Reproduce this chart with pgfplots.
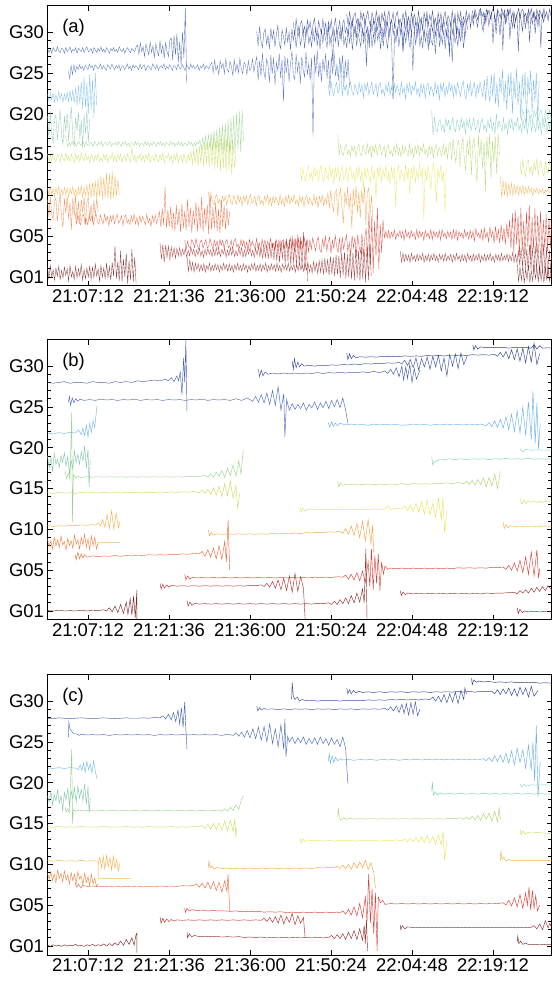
\documentclass[border=0pt]{standalone}
\usepackage{fontspec}
\setmainfont{Liberation Sans}
\usepackage{pgfplots}
\pgfplotsset{compat=1.18}
\definecolor{c01}{RGB}{112,16,16}
\definecolor{c02}{RGB}{140,24,24}
\definecolor{c03}{RGB}{170,26,26}
\definecolor{c05}{RGB}{216,40,30}
\definecolor{c07}{RGB}{234,90,40}
\definecolor{c08}{RGB}{241,118,46}
\definecolor{c09}{RGB}{243,150,46}
\definecolor{c10}{RGB}{245,168,58}
\definecolor{c13}{RGB}{228,226,70}
\definecolor{c14}{RGB}{196,220,80}
\definecolor{c16}{RGB}{144,206,130}
\definecolor{c17}{RGB}{168,208,96}
\definecolor{c18}{RGB}{120,192,160}
\definecolor{c19}{RGB}{112,196,184}
\definecolor{c20}{RGB}{128,204,200}
\definecolor{c22}{RGB}{104,180,236}
\definecolor{c23}{RGB}{90,166,234}
\definecolor{c26}{RGB}{58,92,184}
\definecolor{c28}{RGB}{46,80,170}
\definecolor{c29}{RGB}{42,68,160}
\definecolor{c30}{RGB}{34,56,154}
\definecolor{c31}{RGB}{26,44,136}
\definecolor{c32}{RGB}{16,32,110}
\pgfplotsset{
  gnss/.style={
    scale only axis, width=504bp, height=280bp, anchor=south west,
    xmin=0, xmax=89.6, ymin=-1.1, ymax=33.2,
    xtick={7.2,21.6,36,50.4,64.8,79.2},
    xticklabels={21:07:12,21:21:36,21:36:00,21:50:24,22:04:48,22:19:12},
    ytick={0,5,10,15,20,25,30},
    yticklabels={G01,G05,G10,G15,G20,G25,G30},
    minor y tick num=4,
    tick align=inside,
    major tick length=5bp, minor tick length=3.5bp,
    ticklabel style={font=\fontsize{18.5}{18.5}\selectfont},
    axis line style={line width=1pt},
    every tick/.style={black, line width=0.8pt},
  },
  txd/.style n args={3}{/pgfplots/table/row sep=\\, /pgfplots/table/header=false, /pgfplots/table/x expr={#1+\coordindex*#2}, /pgfplots/table/y expr={#3+\thisrowno{0}/10}},
  pa/.style={line width=0.35pt, opacity=0.8},
  pb/.style={line width=0.45pt, opacity=0.9},
}
\begin{document}
\begin{tikzpicture}
\path[use as bounding box] (0,0) rectangle (552bp,983bp);
%================ (a)
\begin{axis}[gnss, at={(47.5bp,697bp)}]
\addplot[c28,pa] table[txd={0}{0.25}{27.8}]{2\\-3\\1\\-4\\3\\0\\-2\\4\\-1\\-3\\2\\1\\-4\\3\\-2\\0\\4\\-3\\1\\-1\\3\\-4\\2\\0\\-2\\3\\-3\\1\\4\\-2\\-1\\2\\-4\\3\\0\\-3\\2\\-1\\4\\-2\\1\\-3\\3\\0\\-4\\2\\-1\\3\\-2\\1\\-3\\4\\0\\-2\\2\\-4\\1\\3\\-1\\-3\\2\\0\\-2\\4\\6\\-5\\9\\-2\\4\\-8\\7\\1\\-6\\10\\-3\\5\\-9\\8\\-1\\-7\\11\\-4\\6\\-10\\9\\-2\\-8\\12\\15\\-12\\18\\-6\\20\\-15\\10\\-18\\22\\-10\\52\\-40\\};
\addplot[c26,pa] table[txd={3.7}{0.25}{25.7}]{-5\\-14\\2\\-9\\3\\-6\\1\\-3\\3\\-2\\1\\-4\\2\\0\\-3\\4\\-1\\2\\-4\\3\\1\\-2\\0\\4\\-3\\2\\-1\\-4\\3\\1\\-2\\4\\0\\-3\\2\\-1\\3\\-4\\1\\2\\-3\\0\\4\\-2\\1\\-4\\3\\-1\\2\\0\\-3\\4\\-2\\1\\3\\-4\\0\\2\\-1\\-3\\4\\1\\-2\\3\\-4\\0\\2\\-1\\4\\-3\\1\\-2\\3\\0\\-4\\2\\1\\-3\\4\\-1\\-2\\3\\0\\-4\\2\\1\\-3\\4\\-1\\2\\-2\\0\\3\\-4\\1\\-1\\4\\-3\\2\\0\\-2\\3\\6\\-7\\9\\-4\\2\\-9\\8\\-1\\5\\-8\\10\\-3\\-6\\7\\1\\-10\\9\\-5\\4\\-7\\11\\-2\\-8\\6\\3\\-9\\8\\-4\\-1\\10\\-6\\5\\13\\-16\\8\\-11\\18\\-5\\-14\\10\\3\\-19\\15\\-8\\12\\-22\\6\\-4\\17\\-13\\9\\-42\\14\\-7\\11\\-18\\4\\20\\-10\\-15\\16\\-6\\8\\-20\\13\\-3\\-12\\19\\-9\\5\\-16\\11\\-85\\15\\-7\\21\\-12\\6\\-18\\10\\-4\\17\\-14\\9\\-25\\13\\-8\\18\\-11\\3\\-16\\12\\-6\\15\\-20\\8\\-13\\10\\-25\\};
\addplot[c29,pa] table[txd={37.2}{0.25}{29.3}]{8\\-10\\14\\-4\\-12\\6\\11\\-8\\3\\-14\\12\\-2\\9\\-11\\5\\15\\-7\\-13\\10\\1\\-9\\13\\-5\\7\\-15\\11\\-3\\8\\-12\\4\\14\\-9\\-1\\10\\-13\\6\\12\\-7\\2\\-11\\9\\-4\\13\\-10\\5\\-14\\11\\-6\\8\\-2\\-12\\15\\-8\\3\\-28\\10\\-5\\12\\-11\\7\\-3\\14\\-9\\1\\-13\\11\\-6\\9\\-15\\4\\12\\-10\\6\\-2\\-11\\13\\-7\\8\\-35\\10\\-4\\12\\-12\\5\\-8\\14\\-3\\9\\-14\\7\\-10\\11\\-1\\-13\\6\\15\\-9\\-75\\8\\-5\\13\\-11\\3\\10\\-14\\7\\-6\\12\\-2\\-12\\9\\-40\\11\\-8\\5\\14\\-10\\2\\-13\\10\\-5\\8\\-15\\12\\-3\\-9\\11\\-20\\6\\13\\-11\\4\\-7\\10\\-14\\9\\-2\\-12\\7\\-30\\12\\-6\\3\\-10\\9\\-4\\11\\-13\\5\\8\\};
\addplot[c30,pa] table[txd={43.7}{0.25}{30.5}]{7\\-9\\11\\-3\\-10\\5\\9\\-6\\2\\-11\\10\\-1\\8\\-8\\4\\12\\-5\\-10\\9\\0\\-7\\11\\-4\\6\\-12\\8\\-2\\10\\-9\\3\\12\\-7\\-1\\9\\-11\\5\\10\\-6\\1\\-9\\8\\-3\\11\\-8\\4\\-12\\9\\-5\\7\\-1\\-10\\12\\-6\\2\\-25\\9\\-4\\10\\-9\\6\\-2\\12\\-7\\1\\-11\\9\\-5\\8\\-13\\3\\10\\-8\\5\\-1\\-9\\11\\-6\\7\\-30\\9\\-3\\10\\-10\\4\\-6\\12\\-2\\8\\-12\\6\\-8\\9\\0\\-11\\5\\13\\-7\\-20\\7\\-4\\11\\-9\\2\\9\\-12\\6\\-5\\10\\-1\\-10\\8\\-35\\9\\-7\\4\\12\\-8\\1\\-11\\9\\-4\\7\\-13\\10\\-2\\};
\addplot[c31,pa] table[txd={53.2}{0.25}{31.6}]{6\\-8\\9\\-2\\-9\\4\\8\\-5\\1\\-10\\9\\-1\\7\\-7\\3\\10\\-4\\-9\\8\\0\\-6\\10\\-3\\5\\-11\\7\\-2\\9\\-8\\2\\10\\-6\\-1\\8\\-10\\4\\9\\-5\\0\\-8\\7\\-3\\10\\-7\\3\\-11\\8\\-4\\6\\-1\\-9\\10\\-5\\2\\-14\\8\\-3\\9\\-8\\5\\-2\\10\\-6\\1\\-10\\8\\-4\\7\\-12\\3\\9\\-7\\4\\-1\\-8\\10\\-5\\6\\-18\\8\\-3\\9\\-9\\3\\-5\\10\\-2\\7\\-11\\5\\-7\\8\\0\\-10\\4\\11\\-6\\-15\\6\\-3\\10\\-8\\2\\8\\-30\\5\\-4\\9\\-1\\-20\\7\\-38\\8\\-6\\3\\10\\-25\\1\\-10\\8\\-3\\6\\-40\\9\\-2\\-15\\7\\-12\\4\\8\\-28\\3\\-6\\9\\-18\\5\\-9\\7\\-35\\8\\-4\\6\\};
\addplot[c32,pa] table[txd={75.5}{0.25}{32.3}]{4\\-6\\5\\-2\\-8\\3\\6\\-4\\1\\-15\\5\\-1\\4\\-7\\2\\6\\-3\\-25\\5\\0\\-5\\6\\-3\\4\\-10\\5\\-2\\6\\-6\\2\\-18\\-5\\-1\\6\\-7\\3\\5\\-4\\0\\-12\\5\\-3\\6\\-5\\2\\-8\\5\\-4\\4\\-1\\-6\\6\\-4\\2\\-9\\5\\-3\\};
\addplot[c23,pa] table[txd={49.9}{0.25}{23.0}]{6\\-7\\9\\-3\\-8\\4\\8\\-5\\1\\30\\-9\\7\\-2\\5\\-8\\3\\9\\-4\\-7\\6\\0\\-6\\8\\-3\\5\\-10\\7\\-2\\8\\-7\\2\\9\\-6\\-1\\7\\-9\\4\\8\\-5\\0\\-8\\6\\-3\\9\\-7\\3\\-10\\7\\-4\\5\\-1\\-8\\9\\-5\\2\\-12\\7\\-3\\8\\-7\\4\\-2\\9\\-6\\1\\-9\\7\\-4\\6\\-11\\3\\8\\-7\\4\\-1\\-8\\9\\-5\\5\\-14\\7\\-3\\8\\-9\\3\\-5\\9\\-2\\6\\-10\\5\\-7\\8\\0\\-9\\4\\10\\-6\\-12\\6\\-3\\9\\-8\\2\\8\\-11\\5\\-4\\9\\-1\\-9\\12\\-14\\16\\-6\\-15\\18\\-9\\20\\-18\\8\\-22\\15\\-5\\24\\-16\\10\\-26\\19\\-8\\22\\-30\\14\\-12\\25\\-20\\9\\-35\\18\\-10\\21\\-42\\15\\-6\\23\\-28\\12\\-15\\20\\-38\\10\\};
\addplot[c19,pa] table[txd={68.3}{0.25}{18.6}]{18\\-12\\10\\-5\\-8\\4\\7\\-5\\1\\-9\\8\\-1\\6\\-7\\3\\9\\-4\\-8\\7\\0\\-6\\9\\-3\\5\\-10\\7\\-2\\8\\-7\\2\\9\\-6\\-1\\7\\-9\\4\\8\\-5\\0\\-8\\6\\-3\\9\\-7\\3\\-10\\14\\-4\\5\\-1\\-8\\9\\-5\\2\\-11\\7\\-3\\8\\-7\\4\\-2\\9\\-6\\1\\-9\\7\\-4\\6\\-10\\3\\8\\-7\\4\\-1\\-8\\9\\-5\\5\\-12\\7\\-3\\8\\-9\\3\\-5\\9\\};
\addplot[c20,pa] table[txd={84}{0.25}{19.8}]{5\\-6\\7\\-2\\-7\\3\\6\\-4\\1\\-8\\6\\-1\\5\\-6\\2\\7\\-3\\-7\\6\\0\\-5\\7\\-2\\};
\addplot[c17,pa] table[txd={51.6}{0.25}{15.5}]{20\\-6\\7\\-3\\-6\\4\\8\\-5\\1\\-7\\6\\-1\\5\\-7\\3\\8\\-4\\-6\\7\\0\\-5\\8\\-3\\5\\-8\\6\\-2\\7\\-6\\2\\8\\-5\\-1\\6\\-8\\4\\7\\-4\\0\\-7\\6\\-3\\8\\-6\\3\\-8\\6\\-4\\5\\-1\\-7\\8\\-5\\2\\-9\\6\\-3\\7\\-6\\4\\-2\\8\\-5\\1\\-8\\6\\-4\\5\\-9\\3\\7\\-6\\4\\-1\\-7\\8\\-5\\5\\-10\\6\\10\\-12\\14\\-4\\-15\\9\\12\\-20\\6\\16\\-10\\-25\\13\\-6\\18\\-30\\8\\15\\-12\\-40\\19\\-8\\14\\-22\\11\\-50\\17\\-10\\20\\-35\\12\\-15\\18\\-28\\21\\-5\\};
\addplot[c13,pa] table[txd={44.9}{0.25}{12.6}]{9\\-7\\8\\-4\\-9\\5\\10\\-6\\2\\-8\\9\\-2\\7\\-8\\4\\11\\-5\\-9\\8\\1\\-7\\10\\-4\\6\\-12\\8\\-3\\9\\-8\\3\\10\\-7\\-2\\8\\-10\\5\\9\\-6\\1\\-9\\8\\-4\\10\\-8\\4\\-18\\9\\-5\\7\\-2\\-10\\11\\-6\\3\\-30\\8\\-4\\10\\-9\\6\\-3\\11\\-7\\2\\-12\\9\\-5\\8\\-40\\4\\10\\-8\\5\\-2\\-9\\12\\-6\\7\\-25\\9\\-4\\11\\-10\\4\\-6\\12\\-3\\8\\-55\\6\\-8\\10\\0\\-20\\5\\13\\-7\\-35\\7\\-4\\11\\-9\\3\\-45\\9\\};
\addplot[c14,pa] table[txd={84}{0.25}{13.3}]{9\\-8\\11\\-4\\-10\\6\\10\\-6\\2\\-9\\8\\-2\\12\\-8\\4\\9\\-5\\-10\\8\\1\\-7\\10\\-4\\};
\addplot[c09,pa] table[txd={28.6}{0.25}{9.4}]{10\\-5\\6\\-3\\-6\\4\\7\\-4\\1\\-6\\5\\-1\\5\\-6\\3\\7\\-3\\-5\\6\\0\\-5\\7\\-2\\4\\-7\\5\\-2\\6\\-5\\2\\7\\-4\\-1\\5\\-7\\3\\6\\-4\\0\\-6\\5\\-2\\7\\-5\\3\\-7\\5\\-3\\4\\-1\\-6\\7\\-4\\2\\-8\\5\\-3\\6\\-5\\3\\-2\\7\\-4\\1\\-7\\5\\-3\\4\\-8\\3\\6\\-5\\3\\-1\\-6\\7\\-4\\4\\-9\\5\\-3\\6\\-7\\3\\-4\\9\\-10\\12\\-4\\-14\\8\\13\\-20\\5\\15\\-9\\-28\\11\\-6\\16\\-12\\8\\-34\\14\\-7\\18\\-15\\10\\-22\\12\\-5\\17\\-30\\9\\15\\-18\\6\\-25\\};
\addplot[c10,pa] table[txd={80.5}{0.25}{10.5}]{18\\-8\\14\\-5\\12\\-7\\9\\-4\\10\\-6\\8\\-3\\7\\-5\\6\\-2\\7\\-4\\5\\-3\\6\\-2\\4\\-5\\3\\-1\\4\\-3\\2\\-2\\3\\-4\\2\\-1\\3\\-2\\1\\};
\addplot[c05,pa] table[txd={24.4}{0.25}{4.0}]{5\\-6\\4\\-3\\-5\\6\\2\\-4\\7\\-2\\-6\\3\\5\\-5\\1\\6\\-4\\-3\\7\\0\\-6\\5\\-2\\4\\-7\\6\\-1\\5\\-5\\3\\6\\-4\\-2\\5\\-6\\4\\7\\-3\\0\\-5\\6\\-2\\5\\-6\\3\\-7\\6\\-3\\4\\-1\\-6\\7\\-4\\2\\-8\\6\\-3\\5\\-5\\4\\-2\\7\\-4\\1\\-7\\6\\-3\\5\\-8\\3\\6\\-5\\4\\-1\\-6\\8\\-4\\5\\-9\\6\\-3\\7\\-7\\4\\-5\\8\\-2\\6\\-9\\5\\-6\\8\\0\\-8\\4\\9\\-6\\-10\\6\\-4\\10\\-8\\3\\9\\-11\\5\\-5\\11\\-2\\-10\\8\\-12\\9\\-6\\4\\12\\-9\\2\\-13\\11\\-4\\8\\-14\\12\\-3\\-10\\13\\-15\\7\\20\\-18\\40\\-25\\35\\-35\\28\\-15\\45\\-30\\25\\-10\\30\\8\\16\\8\\17\\7\\15\\9\\18\\6\\14\\10\\17\\8\\16\\5\\18\\9\\15\\7\\17\\10\\14\\6\\18\\8\\16\\9\\15\\5\\17\\10\\14\\7\\18\\6\\16\\9\\15\\8\\17\\5\\18\\10\\14\\7\\16\\9\\15\\6\\18\\8\\17\\5\\16\\10\\14\\7\\18\\9\\15\\6\\17\\8\\16\\4\\19\\10\\14\\7\\18\\5\\20\\8\\15\\3\\21\\9\\16\\2\\22\\6\\18\\1\\24\\5\\20\\0\\25\\7\\30\\-5\\38\\-10\\42\\0\\35\\-15\\45\\-8\\28\\-12\\40\\-3\\48\\-18\\33\\-6\\44\\-10\\36\\-2\\41\\-14\\30\\-5\\37\\-9\\32\\-4\\28\\};
\addplot[c03,pa] table[txd={20}{0.25}{3.0}]{12\\-8\\10\\-12\\9\\-6\\8\\-9\\7\\-5\\6\\-7\\5\\-4\\6\\-5\\4\\-3\\5\\-6\\3\\-4\\6\\-2\\4\\-5\\3\\-3\\5\\-4\\2\\-6\\4\\-3\\5\\-2\\3\\-5\\4\\-4\\6\\-3\\2\\-5\\4\\-2\\5\\-6\\3\\-4\\6\\-3\\4\\-5\\2\\-4\\5\\-3\\6\\-6\\3\\-5\\4\\-2\\6\\-4\\3\\-6\\5\\-3\\7\\-5\\4\\-7\\8\\-6\\9\\-8\\10\\-7\\12\\-9\\14\\-10\\11\\-12\\15\\-8\\13\\-14\\17\\-11\\16\\-15\\20\\-13\\18\\-18\\22\\-16\\19\\-20\\25\\-22\\15\\-35\\};
\addplot[c02,pa] table[txd={24.8}{0.25}{1.1}]{14\\-4\\10\\-3\\7\\-5\\6\\-2\\5\\-4\\4\\-3\\5\\-5\\3\\-2\\6\\-4\\3\\-3\\5\\-2\\4\\-5\\3\\-3\\6\\-2\\4\\-4\\5\\-3\\3\\-5\\4\\-2\\6\\-3\\3\\-4\\5\\-2\\4\\-5\\3\\-3\\5\\-2\\6\\-4\\3\\-3\\5\\-4\\4\\-2\\6\\-5\\3\\-3\\5\\-2\\4\\-4\\6\\-3\\3\\-5\\5\\-2\\4\\-3\\6\\-4\\3\\-2\\5\\-5\\4\\-3\\6\\-2\\3\\-4\\5\\-3\\7\\-5\\4\\-6\\8\\-4\\6\\-7\\9\\-5\\10\\-8\\12\\-6\\11\\-9\\14\\-7\\13\\-10\\16\\-8\\15\\-12\\18\\-9\\20\\-13\\17\\-11\\22\\-14\\19\\-15\\24\\-12\\21\\-16\\26\\-14\\23\\-18\\28\\-15\\30\\-10\\};
\addplot[c02,pa] table[txd={62.7}{0.25}{2.3}]{9\\-5\\6\\-4\\5\\-3\\4\\-5\\6\\-2\\3\\-4\\5\\-3\\4\\-2\\6\\-5\\3\\-3\\5\\-4\\4\\-2\\6\\-3\\3\\-5\\5\\-2\\4\\-4\\6\\-3\\3\\-2\\5\\-5\\4\\-3\\6\\-2\\3\\-4\\5\\-3\\4\\-5\\6\\-2\\3\\-4\\5\\-3\\4\\-2\\6\\-5\\3\\-3\\5\\-4\\4\\-2\\6\\-3\\3\\-5\\5\\-2\\4\\-4\\6\\-3\\3\\-2\\5\\-4\\4\\-3\\7\\-5\\5\\-6\\9\\-8\\12\\-10\\14\\-12\\11\\-15\\16\\-13\\13\\-18\\15\\-14\\18\\-20\\12\\-16\\17\\-22\\14\\-25\\10\\-18\\15\\-12\\};
\addplot[c01,pa] table[txd={0}{0.25}{0.4}]{8\\-6\\10\\-4\\5\\-8\\7\\-3\\9\\-7\\4\\-5\\8\\-2\\6\\-9\\10\\-4\\3\\-7\\9\\-5\\6\\-3\\11\\-8\\5\\-6\\7\\-4\\9\\-7\\8\\-5\\12\\-3\\6\\-9\\10\\-4\\7\\-6\\13\\-5\\9\\-8\\14\\-3\\34\\-6\\15\\-9\\28\\-10\\18\\-4\\25\\-12\\16\\-8\\30\\-10\\20\\-12\\};
\addplot[c01,pa] table[txd={83.5}{0.25}{0.2}]{14\\-8\\10\\-6\\12\\-10\\8\\-5\\13\\-9\\6\\-7\\11\\-4\\9\\-8\\12\\-6\\7\\-9\\10\\-5\\8\\-7\\6\\};
\addplot[c22,pa] table[txd={0}{0.25}{22.0}]{4\\-5\\6\\-3\\5\\-6\\3\\-4\\7\\-2\\5\\-6\\4\\-3\\6\\-5\\8\\-4\\9\\-7\\12\\-10\\15\\-8\\20\\-14\\25\\-12\\18\\-20\\28\\-15\\22\\-25\\30\\-10\\};
\addplot[c18,pa] table[txd={0}{0.25}{18.3}]{15\\-12\\20\\-8\\-18\\10\\16\\-15\\5\\22\\-10\\-20\\14\\-5\\18\\-16\\8\\25\\-12\\-22\\12\\-4\\19\\-14\\9\\-25\\16\\-7\\21\\-18\\10\\};
\addplot[c16,pa] table[txd={3.1}{0.25}{16.3}]{12\\4\\-3\\2\\-2\\3\\-1\\2\\-3\\1\\3\\-2\\0\\2\\-3\\3\\-1\\-2\\2\\1\\-3\\3\\0\\-2\\2\\-1\\3\\-3\\1\\2\\-2\\0\\3\\-3\\1\\-1\\2\\-2\\3\\0\\-3\\2\\-1\\3\\-2\\1\\-3\\2\\0\\-2\\3\\-1\\2\\-3\\1\\0\\-2\\3\\-1\\2\\-3\\1\\-2\\3\\0\\-3\\2\\-1\\3\\-2\\1\\-3\\2\\0\\-2\\3\\-1\\2\\-3\\1\\-1\\3\\-2\\2\\-3\\1\\0\\-2\\3\\-1\\2\\-3\\1\\-2\\3\\0\\5\\-6\\8\\-4\\10\\-7\\12\\-5\\14\\-9\\16\\-6\\18\\-10\\20\\-8\\24\\-12\\26\\-9\\30\\-11\\32\\-8\\35\\-12\\38\\-6\\40\\-10\\42\\2\\};
\addplot[c14,pa] table[txd={0}{0.25}{14.6}]{5\\-6\\3\\-4\\6\\-2\\-5\\4\\2\\-6\\5\\-1\\-4\\6\\-3\\2\\-5\\4\\0\\-6\\5\\-2\\3\\-5\\6\\-1\\-4\\5\\-3\\2\\-6\\4\\1\\-5\\3\\-2\\6\\-4\\0\\-5\\5\\-3\\4\\-6\\2\\-1\\6\\-4\\3\\-5\\4\\-2\\5\\-6\\1\\3\\-4\\5\\-2\\-5\\14\\-3\\4\\-6\\2\\-1\\5\\-4\\3\\-5\\4\\-2\\6\\-6\\1\\3\\-4\\5\\-2\\-5\\4\\-3\\6\\-6\\2\\0\\5\\-4\\3\\-7\\4\\-2\\6\\-6\\1\\3\\-5\\5\\-2\\-6\\4\\-3\\8\\-8\\10\\-6\\12\\-9\\14\\-7\\16\\-10\\18\\-8\\20\\-12\\22\\-10\\25\\-14\\23\\-12\\26\\-16\\28\\-13\\24\\-18\\27\\-15\\22\\-20\\18\\-12\\4\\};
\addplot[c10,pa] table[txd={0}{0.25}{10.4}]{5\\-4\\6\\-3\\4\\-6\\5\\-2\\7\\-5\\3\\-4\\6\\-3\\5\\-6\\4\\-2\\7\\-4\\3\\-5\\6\\-3\\8\\-6\\5\\-4\\9\\-5\\10\\-7\\12\\-6\\14\\-8\\16\\-5\\20\\-9\\18\\-6\\24\\-8\\22\\-10\\26\\-7\\20\\-5\\15\\-3\\};
\addplot[c08,pa] table[txd={0}{0.25}{8.3}]{12\\-9\\15\\-6\\-12\\10\\14\\-15\\5\\18\\-10\\-22\\13\\-5\\16\\-12\\8\\-25\\14\\-8\\17\\-14\\10\\-18\\12\\-4\\15\\-20\\9\\14\\-12\\6\\-16\\11\\-8\\13\\-3\\};
\addplot[c07,pa] table[txd={4.9}{0.25}{7.0}]{8\\-5\\6\\-3\\-6\\4\\7\\-4\\1\\-6\\5\\-1\\5\\-6\\3\\7\\-3\\-5\\6\\0\\-5\\7\\-2\\4\\-7\\5\\-2\\6\\-5\\2\\7\\-4\\-1\\5\\-7\\3\\6\\-4\\0\\-6\\5\\-2\\7\\-5\\3\\-7\\5\\-3\\4\\-1\\-6\\7\\-4\\2\\-8\\5\\-3\\6\\-5\\3\\10\\-9\\14\\-6\\40\\-10\\12\\-8\\16\\-12\\9\\-14\\18\\-7\\13\\-15\\20\\-10\\11\\-13\\25\\-9\\15\\-16\\12\\-6\\22\\-14\\17\\-11\\28\\-15\\14\\-8\\19\\-17\\35\\-12\\16\\-10\\21\\-14\\13\\-16\\24\\-9\\18\\-12\\15\\-6\\10\\};
\node[anchor=west,inner sep=0pt,font=\fontsize{18.5}{18.5}\selectfont] at (axis cs:2.6,30.5) {(a)};
\end{axis}
%================ (b)
\begin{axis}[gnss, at={(47.5bp,363bp)}]
\addplot[c28,pb] coordinates {(0,28.0)(1,27.9)(2,28.0)(3,28.1)(4,27.9)(5,28.0)(6,28.0)(7,27.9)(8,28.1)(9,28.0)(10,28.0)(11,27.9)(12,28.1)(13,28.0)(14,28.1)(15,28.0)(16,28.2)(17,28.1)(18,28.2)(19,28.3)(20,28.2)(21,28.4)(21.5,28.2)(22,28.6)(22.5,28.1)(23,28.8)(23.3,28.2)(23.6,29.3)(23.9,26.5)(24.2,31.0)(24.4,28.0)(24.6,33.2)(24.8,24.4)};
\addplot[c26,pb] coordinates {(3.7,25.6)(3.9,26.3)(4.1,25.2)(4.4,26.1)(4.7,25.5)(5.0,26.0)(5.4,25.7)(5.8,25.95)(6.5,25.8)(7.5,25.9)(8.5,25.8)(9.5,25.95)(10.5,25.85)(11.5,25.9)(12.5,25.8)(13.5,25.9)(14.5,25.85)(15.5,25.95)(16.5,25.8)(17.5,25.9)(18.5,25.85)(19.5,25.9)(20.5,25.8)(21.5,25.9)(22.5,25.85)(23.5,25.9)(24.5,25.8)(25.5,25.9)(26.5,25.85)(27.5,25.95)(28.5,25.8)(29.5,25.9)(30.5,25.85)(31.5,25.9)(32.5,25.8)(33.5,26.0)(34.5,25.8)(35.5,26.1)(36.5,25.7)(37,26.3)(37.5,25.6)(38,26.5)(38.5,25.5)(39,26.7)(39.5,25.3)(40,27.0)(40.5,25.2)(41,27.5)(41.5,24.6)(42,26.6)(42.2,21.3)(42.5,25.9)(43,24.6)(43.5,25.4)(44,24.7)(44.5,25.3)(45,24.8)(45.5,25.5)(46,24.6)(46.5,25.3)(47,24.9)(47.5,25.6)(48,24.7)(48.5,25.5)(49,24.9)(49.5,25.7)(50,24.8)(50.5,25.8)(51,25.0)(51.5,25.9)(52,24.9)(52.5,26.1)(53,24.6)(53.4,23.0)};
\addplot[c29,pb] coordinates {(37.5,29.6)(37.7,28.7)(38,29.5)(38.3,28.8)(38.7,29.3)(39.2,29.0)(40,29.15)(41,29.05)(42,29.15)(43,29.05)(44,29.15)(45,29.05)(46,29.15)(47,29.1)(48,29.2)(49,29.1)(50,29.2)(51,29.15)(52,29.25)(53,29.15)(54,29.25)(55,29.2)(56,29.3)(57,29.2)(58,29.35)(59,29.2)(60,29.4)(60.5,29.1)(61,29.6)(61.5,29.0)(62,29.8)(62.5,28.7)(63,30.0)(63.3,28.3)(63.7,29.9)(64,28.5)(64.4,30.2)(64.8,28.0)(65.2,29.7)(65.6,28.4)(66.2,29.5)};
\addplot[c30,pb] coordinates {(43.5,30.6)(43.7,29.6)(43.9,30.9)(44.2,29.8)(44.5,30.5)(44.8,29.9)(45.2,30.3)(45.6,30.0)(46.5,30.1)(47.5,30.0)(48.5,30.1)(49.5,30.05)(50.5,30.15)(51.5,30.1)(52.5,30.2)(53.5,30.15)(54.5,30.25)(55.5,30.2)(56.5,30.3)(57.5,30.25)(58.5,30.35)(59.5,30.3)(60.5,30.4)(61.5,30.35)(62.5,30.45)(63,30.3)(63.5,30.7)(64,30.1)(64.5,30.8)(65,29.8)(65.5,31.0)(66,29.5)(66.5,30.9)(67,29.9)(67.5,31.1)(68,29.6)(68.5,31.2)(69,29.9)(69.5,31.3)(70,29.4)(70.5,31.0)(71,28.8)(71.5,31.4)(72,30.0)(72.5,31.5)(73,29.7)(73.5,31.6)(74,30.2)(74.6,31.2)};
\addplot[c31,pb] coordinates {(53.2,31.6)(53.4,30.8)(53.7,31.5)(54,30.9)(54.4,31.3)(54.8,31.0)(55.5,31.15)(56.5,31.1)(57.5,31.15)(58.5,31.1)(59.5,31.2)(60.5,31.15)(61.5,31.2)(62.5,31.15)(63.5,31.25)(64.5,31.2)(65.5,31.25)(66.5,31.2)(67.5,31.3)(68.5,31.25)(69.5,31.3)(70.5,31.25)(71.5,31.3)(72.5,31.3)(73.5,31.35)(74.5,31.3)(75.5,31.4)(76.5,31.35)(77.5,31.4)(78.5,31.35)(79.5,31.45)(80,31.2)(80.5,31.7)(81,31.1)(81.5,31.8)(82,30.9)(82.5,32.0)(83,30.8)(83.5,32.1)(84,30.6)(84.5,32.2)(85,30.4)(85.5,32.4)(86,30.5)(86.5,32.8)(87,30.2)(87.5,31.5)};
\addplot[c32,pb] coordinates {(75.6,32.6)(75.8,32.0)(76.1,32.5)(76.5,32.1)(77,32.35)(78,32.25)(79,32.3)(80,32.25)(81,32.3)(82,32.2)(83,32.3)(84,32.25)(85,32.3)(86,32.2)(86.5,32.6)(87,32.1)(87.5,32.5)(88,32.2)(89,32.25)(89.6,32.2)};
\addplot[c23,pb] coordinates {(49.9,23.1)(50.2,22.5)(50.5,23.2)(50.8,22.6)(51.2,23.0)(51.6,22.7)(52,23.0)(53,22.8)(54,22.9)(55,22.8)(56,22.85)(57,22.75)(58,22.9)(59,22.8)(60,22.85)(61,22.8)(62,22.85)(63,22.75)(64,22.8)(65,22.9)(66,22.8)(67,22.85)(68,22.75)(69,22.85)(70,22.8)(71,22.9)(72,22.8)(73,22.85)(74,22.8)(75,22.9)(76,22.8)(77,22.9)(78,22.7)(78.5,23.1)(79,22.6)(79.5,23.3)(80,22.5)(80.5,23.5)(81,22.4)(81.5,23.8)(82,22.2)(82.5,24.1)(83,22.0)(83.5,24.5)(84,21.8)(84.5,25.0)(85,21.5)(85.5,25.6)(86,21.0)(86.3,26.9)(86.7,20.5)(87,25.5)(87.3,19.8)(87.6,23.0)};
\addplot[c19,pb] coordinates {(68.3,18.9)(68.5,17.9)(68.8,18.3)(69.2,18.4)(69.6,18.5)(70.5,18.55)(71.5,18.65)(72.5,18.55)(73.5,18.65)(74.5,18.55)(75.5,18.65)(76.5,18.6)(77.5,18.65)(78.5,18.55)(79.5,18.65)(80.5,18.6)(81.5,18.7)(82.5,18.6)(83.5,18.65)(84.5,18.6)(85.5,18.7)(86.5,18.6)(87.5,18.65)(88.5,18.6)(89.6,18.65)};
\addplot[c20,pb] coordinates {(84,19.9)(84.5,19.5)(85,19.8)(86,19.7)(87,19.75)(88,19.7)(89.6,19.7)};
\addplot[c17,pb] coordinates {(51.6,15.9)(51.8,15.2)(52.1,15.7)(52.5,15.4)(53,15.55)(54,15.5)(55,15.55)(56,15.5)(57,15.55)(58,15.5)(59,15.55)(60,15.5)(61,15.55)(62,15.5)(63,15.6)(64,15.5)(65,15.6)(66,15.55)(67,15.6)(68,15.55)(69,15.65)(70,15.6)(71,15.7)(72,15.6)(73,15.75)(74,15.6)(74.5,15.9)(75,15.5)(75.5,16.0)(76,15.4)(76.5,16.1)(77,15.5)(77.5,16.3)(78,15.2)(78.5,16.4)(79,15.3)(79.5,16.8)(80,15.0)(80.5,17.1)};
\addplot[c13,pb] coordinates {(44.9,12.7)(45.1,12.1)(45.4,12.6)(45.8,12.2)(46.3,12.45)(47,12.4)(48,12.45)(49,12.4)(50,12.45)(51,12.4)(52,12.45)(53,12.4)(54,12.45)(55,12.4)(56,12.45)(57,12.4)(58,12.5)(59,12.45)(60,12.5)(60.5,12.9)(61,12.4)(62,12.6)(63,12.5)(63.5,12.9)(64,12.3)(64.5,13.0)(65,12.2)(65.5,13.2)(66,12.1)(66.5,13.4)(67,11.9)(67.5,13.6)(68,11.8)(68.5,13.2)(69,11.5)(69.5,13.8)(70,11.2)(70.3,13.9)(70.6,9.5)(71,12.4)};
\addplot[c14,pb] coordinates {(84,13.8)(84.3,13.1)(84.7,13.6)(85.1,13.2)(85.5,13.5)(86,13.3)(86.5,13.5)(87,13.3)(87.5,13.45)(88,13.3)(88.5,13.5)(89,13.35)(89.6,13.4)};
\addplot[c09,pb] coordinates {(28.6,9.9)(28.8,9.2)(29.1,9.6)(29.5,9.3)(30,9.45)(31,9.4)(32,9.45)(33,9.4)(34,9.45)(35,9.4)(36,9.45)(37,9.4)(38,9.45)(39,9.4)(40,9.5)(41,9.45)(42,9.5)(43,9.45)(44,9.55)(45,9.5)(46,9.6)(47,9.55)(48,9.65)(49,9.6)(50,9.7)(51,9.65)(52,9.8)(52.5,9.5)(53,10.1)(53.5,9.4)(54,10.4)(54.5,9.3)(55,10.7)(55.5,9.0)(56,11.0)(56.5,8.6)(57,11.2)(57.5,8.3)(57.8,10.5)(58,7.1)};
\addplot[c10,pb] coordinates {(81,10.9)(81.2,10.1)(81.5,10.6)(81.9,10.2)(82.3,10.45)(83,10.35)(84,10.4)(85,10.35)(86,10.4)(87,10.35)(88,10.4)(89.6,10.4)};
\addplot[c05,pb] coordinates {(24.4,4.5)(24.6,3.8)(24.9,4.3)(25.3,3.9)(25.8,4.15)(26.5,4.05)(27.5,4.1)(28.5,4.05)(29.5,4.1)(30.5,4.05)(31.5,4.1)(32.5,4.05)(33.5,4.1)(34.5,4.05)(35.5,4.1)(36.5,4.05)(37.5,4.1)(38.5,4.05)(39.5,4.1)(40.5,4.05)(41.5,4.1)(42.5,4.05)(43.5,4.1)(44.5,4.05)(45.5,4.1)(46.5,4.05)(47.5,4.15)(48.5,4.1)(49.5,4.15)(50.5,4.1)(51.5,4.2)(52.5,4.15)(53,4.4)(53.5,3.9)(54,4.5)(54.5,3.8)(55,4.7)(55.5,3.7)(56,4.9)(56.5,3.5)(57,6.0)(57.3,3.0)(57.6,7.6)(57.9,2.6)(58.2,6.8)(58.5,3.4)(58.8,7.0)(59.1,2.5)(59.4,6.0)(59.7,4.5)(60,5.5)(60.5,5.1)(61,5.25)(62,5.2)(63,5.25)(64,5.2)(65,5.25)(66,5.2)(67,5.25)(68,5.2)(69,5.25)(70,5.2)(71,5.25)(72,5.2)(73,5.3)(74,5.25)(75,5.3)(76,5.25)(77,5.3)(78,5.25)(79,5.35)(80,5.3)(81,5.4)(81.5,5.1)(82,5.6)(82.5,5.0)(83,5.9)(83.5,4.9)(84,6.2)(84.5,4.7)(85,6.6)(85.5,4.5)(86,7.2)(86.5,4.3)(87,7.5)(87.3,4.0)(87.5,5.2)};
\addplot[c03,pb] coordinates {(20,3.4)(20.2,2.7)(20.5,3.3)(20.8,2.8)(21.2,3.2)(21.6,2.9)(22,3.15)(23,3.05)(24,3.1)(25,3.05)(26,3.1)(27,3.05)(28,3.1)(29,3.05)(30,3.1)(31,3.05)(32,3.1)(33,3.05)(34,3.1)(35,3.05)(36,3.15)(37,3.1)(38,3.2)(38.5,3.0)(39,3.4)(39.5,2.9)(40,3.6)(40.5,2.8)(41,3.8)(41.5,2.6)(42,4.0)(42.5,2.5)(43,4.3)(43.5,2.3)(44,4.6)(44.5,2.4)(45,4.2)(45.5,2.8)(45.8,-1.0)};
\addplot[c02,pb] coordinates {(62.7,2.5)(62.9,1.9)(63.2,2.3)(63.6,2.0)(64,2.2)(65,2.1)(66,2.15)(67,2.1)(68,2.15)(69,2.1)(70,2.15)(71,2.1)(72,2.15)(73,2.1)(74,2.15)(75,2.1)(76,2.15)(77,2.1)(78,2.2)(79,2.15)(80,2.2)(81,2.2)(82,2.25)(83,2.3)(83.5,2.1)(84,2.5)(84.5,2.2)(85,2.6)(85.5,2.2)(86,2.8)(86.5,2.3)(87,2.9)(87.5,2.4)(88,3.0)(88.5,2.5)(89,3.1)(89.6,2.6)};
\addplot[c02,pb] coordinates {(24.8,1.3)(25,0.6)(25.3,1.1)(25.7,0.7)(26.2,0.95)(27,0.85)(28,0.9)(29,0.85)(30,0.9)(31,0.85)(32,0.9)(33,0.85)(34,0.9)(35,0.85)(36,0.9)(37,0.85)(38,0.9)(39,0.85)(40,0.9)(41,0.85)(42,0.9)(43,0.85)(44,0.9)(45,0.85)(46,0.9)(47,0.85)(48,0.95)(49,0.9)(50,1.0)(50.5,0.8)(51,1.2)(51.5,0.8)(52,1.4)(52.5,0.9)(53,1.6)(53.5,0.9)(54,1.9)(54.5,1.0)(55,2.2)(55.5,1.1)(56,2.7)(56.3,1.0)(56.6,7.6)(56.8,-1.0)};
\addplot[c01,pb] coordinates {(0,0.05)(1,0.0)(2,0.1)(3,0.0)(4,0.05)(5,0.0)(6,0.1)(7,0.0)(8,0.1)(9,0.05)(10,0.15)(10.5,0.0)(11,0.4)(11.5,-0.1)(12,0.6)(12.5,-0.2)(13,0.8)(13.5,-0.3)(14,1.1)(14.3,-0.4)(14.7,1.5)(15,-0.5)(15.3,1.8)(15.6,-0.8)(15.9,2.6)(15.9,-1.0)};
\addplot[c01,pb] coordinates {(83.5,0.4)(83.7,-0.3)(84,0.2)(84.4,-0.2)(84.8,0.0)(85.5,-0.1)(86.5,-0.05)(87.5,-0.1)(88.5,-0.05)(89.6,-0.1)};
\addplot[c22,pb] coordinates {(0,21.8)(1,21.7)(2,21.85)(3,21.75)(4,21.9)(5,21.8)(5.5,22.2)(6,21.6)(6.3,22.4)(6.6,21.5)(6.9,22.8)(7.2,21.3)(7.5,23.0)(7.8,21.9)(8.1,23.3)(8.4,22.5)(8.8,25.2)};
\addplot[c18,pb] coordinates {(0,19.0)(0.3,17.5)(0.6,18.8)(0.9,17.2)(1.2,19.3)(1.5,18.0)(1.8,18.6)(2.1,17.6)(2.4,19.0)(2.7,18.2)(3.0,19.4)(3.3,17.8)(3.6,18.9)(3.9,16.8)(4.2,18.5)(4.5,17.4)(4.8,19.6)(5.1,18.2)(5.4,19.2)(5.7,18.0)(6.0,19.5)(6.3,18.4)(6.6,20.2)(6.9,17.5)(7.2,19.8)(7.4,15.2)(7.6,18.5)};
\addplot[c16,pb] coordinates {(3.1,17.2)(3.4,16.2)(3.7,16.9)(4.0,16.1)(4.3,24.3)(4.45,10.9)(4.6,16.7)(5,16.3)(5.5,16.5)(6,16.35)(7,16.45)(8,16.4)(9,16.45)(10,16.4)(11,16.45)(12,16.4)(13,16.45)(14,16.4)(15,16.45)(16,16.4)(17,16.45)(18,16.4)(19,16.45)(20,16.4)(21,16.45)(22,16.4)(23,16.45)(24,16.4)(25,16.5)(26,16.45)(27,16.5)(28,16.6)(28.5,16.4)(29,16.8)(29.5,16.4)(30,17.0)(30.5,16.5)(31,17.2)(31.5,16.4)(32,17.5)(32.5,16.6)(33,17.9)(33.5,16.5)(34,18.4)(34.4,16.8)(34.8,19.7)};
\addplot[c14,pb] coordinates {(0,14.5)(1,14.4)(2,14.55)(3,14.45)(4,14.5)(5,14.4)(6,14.55)(7,14.45)(8,14.5)(9,14.45)(10,14.55)(11,14.45)(12,14.5)(13,14.45)(14,14.55)(15,14.5)(16,14.55)(17,14.45)(18,14.55)(19,14.5)(20,14.6)(21,14.5)(22,14.6)(23,14.5)(24,14.6)(25,14.55)(26,14.65)(27,14.5)(27.5,14.8)(28,14.4)(28.5,14.9)(29,14.3)(29.5,15.1)(30,14.2)(30.5,15.3)(31,14.0)(31.5,15.6)(32,14.1)(32.5,15.9)(33,13.8)(33.5,15.4)(33.8,12.6)(34.2,14.5)};
\addplot[c10,pb] coordinates {(0,10.45)(1,10.35)(2,10.45)(3,10.4)(4,10.5)(5,10.45)(6,10.55)(7,10.5)(8,10.6)(8.5,10.5)(9,10.8)(9.4,10.4)(9.8,11.2)(10.2,10.3)(10.6,11.8)(11,10.1)(11.4,12.3)(11.8,10.0)(12.2,12.0)(12.6,10.2)(12.9,11.0)};
\addplot[c10,pb,opacity=0.5] coordinates {(9.0,8.4)(12.9,8.4)};
\addplot[c08,pb] coordinates {(0,8.8)(0.3,7.9)(0.6,8.6)(0.9,7.6)(1.2,9.0)(1.5,8.0)(1.8,8.7)(2.1,7.8)(2.4,9.2)(2.7,8.1)(3.0,8.5)(3.3,7.5)(3.6,8.9)(3.9,8.0)(4.2,8.6)(4.5,7.7)(4.8,9.3)(5.1,8.2)(5.4,8.7)(5.7,7.6)(6.0,9.0)(6.3,8.1)(6.6,9.4)(6.9,7.8)(7.2,8.8)(7.5,7.5)(7.8,9.2)(8.1,8.0)(8.4,9.0)(8.7,7.6)(9.0,8.4)};
\addplot[c07,pb] coordinates {(4.9,6.9)(5.1,6.3)(5.4,7.2)(5.7,6.4)(6.0,7.0)(6.3,6.5)(6.6,6.9)(7,6.6)(8,6.75)(9,6.65)(10,6.75)(11,6.7)(12,6.8)(13,6.7)(14,6.8)(15,6.75)(16,6.85)(17,6.8)(18,6.9)(19,6.85)(20,6.9)(21,6.85)(22,6.95)(23,6.9)(24,7.0)(25,6.95)(26,7.05)(27,7.0)(27.5,7.3)(28,6.7)(28.5,7.5)(29,6.6)(29.5,7.7)(30,6.4)(30.5,8.0)(31,6.3)(31.5,8.5)(31.8,6.0)(32.1,11.2)(32.4,5.0)};
\node[anchor=west,inner sep=0pt,font=\fontsize{18.5}{18.5}\selectfont] at (axis cs:2.6,30.5) {(b)};
\end{axis}
%================ (c)
\begin{axis}[gnss, at={(47.5bp,28bp)}]
\addplot[c28,pb] coordinates {(0,27.9)(1,27.85)(2,27.95)(3,27.9)(4,27.85)(5,27.9)(6,27.95)(7,27.9)(8,27.85)(9,27.9)(10,27.95)(11,27.9)(12,27.85)(13,27.9)(14,27.95)(15,27.9)(16,27.9)(17,27.95)(18,27.9)(19,28.0)(20,27.95)(20.5,28.2)(21,27.8)(21.5,28.4)(22,27.7)(22.4,28.6)(22.8,27.5)(23.2,28.9)(23.5,27.2)(23.8,29.2)(24.1,26.8)(24.4,29.9)(24.6,26.5)(24.8,24.1)};
\addplot[c26,pb] coordinates {(3.7,25.6)(3.8,27.4)(4.0,26.6)(4.3,26.3)(4.7,26.0)(5.2,26.0)(5.6,25.8)(6,25.95)(7,25.85)(8,25.9)(9,25.85)(10,25.9)(11,25.8)(12,25.9)(13,25.85)(14,25.9)(15,25.85)(16,25.9)(17,25.85)(18,25.9)(19,25.8)(20,25.9)(21,25.85)(22,25.9)(23,25.85)(24,25.9)(25,25.85)(26,25.9)(27,25.85)(28,25.9)(29,25.85)(30,25.9)(31,25.8)(32,25.95)(33,25.8)(33.5,26.1)(34,25.7)(34.5,26.2)(35,25.6)(35.5,26.4)(36,25.5)(36.5,26.6)(37,25.4)(37.5,26.8)(38,25.2)(38.5,26.9)(39,25.0)(39.5,27.2)(40,24.8)(40.5,26.6)(41,24.4)(41.5,27.1)(42,24.1)(42.2,27.8)(42.4,23.2)(42.7,25.7)(43,25.0)(43.5,25.6)(44,24.8)(44.5,25.5)(45,24.9)(45.5,25.6)(46,24.7)(46.5,25.4)(47,24.8)(47.5,25.5)(48,24.7)(48.5,25.6)(49,24.8)(49.5,25.4)(50,24.6)(50.5,25.5)(51,24.7)(51.5,25.3)(52,24.4)(52.5,25.6)(53,24.2)(53.4,19.9)};
\addplot[c29,pb] coordinates {(37.2,29.4)(37.4,28.8)(37.7,29.2)(38,28.9)(38.5,29.1)(39,29.0)(40,29.05)(41,28.95)(42,29.05)(43,28.95)(44,29.05)(45,29.0)(46,29.05)(47,28.95)(48,29.05)(49,29.0)(50,29.05)(51,28.95)(52,29.05)(53,29.0)(54,29.05)(55,28.95)(56,29.05)(57,29.0)(58,29.05)(59,29.0)(60,29.1)(60.5,28.9)(61,29.3)(61.5,28.8)(62,29.4)(62.5,28.6)(63,29.6)(63.4,28.5)(63.8,29.7)(64.2,28.3)(64.6,29.8)(65,28.4)(65.4,29.9)(65.8,28.2)(66.2,29.0)};
\addplot[c30,pb] coordinates {(43.4,30.2)(43.5,32.3)(43.7,30.6)(44,30.2)(44.4,30.5)(44.8,30.0)(45.3,30.2)(46,30.05)(47,30.1)(48,30.0)(49,30.1)(50,30.05)(51,30.1)(52,30.0)(53,30.1)(54,30.05)(55,30.1)(56,30.05)(57,30.15)(58,30.1)(59,30.15)(60,30.1)(61,30.2)(62,30.15)(63,30.2)(64,30.15)(65,30.2)(66,30.15)(67,30.25)(68,30.2)(68.5,30.5)(69,30.0)(69.5,30.6)(70,29.9)(70.5,30.8)(71,29.8)(71.5,30.9)(72,29.9)(72.5,31.1)(73,29.7)(73.5,31.3)(74,30.2)(74.2,31.6)(74.5,30.9)};
\addplot[c31,pb] coordinates {(53.2,31.6)(53.4,30.9)(53.7,31.4)(54,30.9)(54.4,31.3)(54.8,31.0)(55.4,31.2)(56,31.05)(57,31.15)(58,31.05)(59,31.15)(60,31.05)(61,31.15)(62,31.1)(63,31.15)(64,31.05)(65,31.15)(66,31.1)(67,31.15)(68,31.05)(69,31.15)(70,31.1)(71,31.15)(72,31.1)(73,31.2)(74,31.1)(75,31.2)(76,31.1)(77,31.2)(78,31.15)(79,31.2)(79.5,30.9)(80,31.4)(80.5,30.8)(81,31.5)(81.5,30.9)(82,31.6)(82.5,30.7)(83,31.5)(83.5,30.6)(84,31.7)(84.5,30.8)(85,31.6)(85.5,30.5)(86,31.8)(86.5,30.6)(87.2,31.3)};
\addplot[c32,pb] coordinates {(75.4,32.8)(75.5,32.0)(75.8,32.6)(76.2,32.3)(76.7,32.45)(77.5,32.35)(78.5,32.4)(79.5,32.3)(80.5,32.35)(81.5,32.3)(82.5,32.35)(83.5,32.25)(84.5,32.3)(85.5,32.25)(86.5,32.3)(87.5,32.2)(88.5,32.25)(89.6,32.2)};
\addplot[c23,pb] coordinates {(49.9,22.6)(50.1,23.5)(50.3,22.4)(50.6,23.3)(50.9,22.5)(51.2,23.1)(51.6,22.7)(52,22.95)(52.5,22.8)(53.5,22.85)(54.5,22.75)(55.5,22.85)(56.5,22.8)(57.5,22.85)(58.5,22.75)(59.5,22.85)(60.5,22.8)(61.5,22.85)(62.5,22.75)(63.5,22.85)(64.5,22.8)(65.5,22.85)(66.5,22.8)(67.5,22.85)(68.5,22.8)(69.5,22.9)(70.5,22.8)(71.5,22.9)(72.5,22.8)(73.5,22.9)(74.5,22.8)(75.5,22.9)(76.5,22.8)(77.5,22.95)(78,22.7)(78.5,23.1)(79,22.6)(79.5,23.3)(80,22.6)(80.5,23.4)(81,22.5)(81.5,23.6)(82,22.4)(82.5,23.9)(83,22.2)(83.5,24.2)(84,22.5)(84.5,24.0)(85,21.8)(85.5,24.6)(86,21.5)(86.3,25.0)(86.6,20.2)(86.9,27.0)(87.2,18.3)(87.6,22.6)};
\addplot[c19,pb] coordinates {(68.3,19.0)(68.4,20.1)(68.6,18.5)(68.9,18.9)(69.3,18.5)(69.8,18.75)(70.5,18.6)(71.5,18.7)(72.5,18.6)(73.5,18.7)(74.5,18.6)(75.5,18.7)(76.5,18.6)(77.5,18.7)(78.5,18.6)(79.5,18.7)(80.5,18.6)(81.5,18.7)(82.5,18.6)(83.5,18.7)(84.5,18.6)(85.5,18.7)(86.5,18.6)(87.5,18.7)(88.5,18.6)(89.6,18.65)};
\addplot[c20,pb] coordinates {(84,19.9)(84.3,19.5)(84.7,19.8)(85.2,19.6)(86,19.75)(87,19.7)(88,19.75)(89.6,19.7)};
\addplot[c17,pb] coordinates {(51.6,15.8)(51.7,16.9)(51.9,15.7)(52.2,15.4)(52.6,15.7)(53.1,15.5)(53.7,15.65)(54.5,15.55)(55.5,15.6)(56.5,15.55)(57.5,15.6)(58.5,15.55)(59.5,15.6)(60.5,15.55)(61.5,15.6)(62.5,15.55)(63.5,15.6)(64.5,15.55)(65.5,15.6)(66.5,15.55)(67.5,15.6)(68.5,15.55)(69.5,15.6)(70.5,15.55)(71.5,15.65)(72.5,15.6)(73.5,15.7)(74,15.5)(74.5,15.8)(75,15.5)(75.5,15.9)(76,15.45)(76.5,16.0)(77,15.4)(77.5,16.2)(78,15.5)(78.5,16.3)(79,15.3)(79.5,16.5)(80,15.2)(80.3,16.9)(80.5,15.5)};
\addplot[c13,pb] coordinates {(44.9,13.2)(45.1,12.6)(45.4,13.1)(45.8,12.8)(46.3,13.0)(47,12.9)(48,12.95)(49,12.85)(50,12.95)(51,12.85)(52,12.95)(53,12.9)(54,12.95)(55,12.85)(56,12.95)(57,12.9)(58,12.95)(59,12.85)(60,12.95)(61,12.9)(62,13.0)(63,12.9)(63.5,13.1)(64,12.8)(64.5,13.2)(65,12.8)(65.5,13.3)(66,12.7)(66.5,13.4)(67,12.7)(67.5,13.5)(68,12.6)(68.5,13.4)(69,12.5)(69.5,13.6)(70,12.4)(70.3,14.0)(70.6,10.5)(71,12.9)};
\addplot[c14,pb] coordinates {(84,14.3)(84.2,13.6)(84.5,14.1)(84.9,13.7)(85.4,13.95)(86,13.85)(87,13.9)(88,13.85)(89,13.8)(89.6,13.75)};
\addplot[c09,pb] coordinates {(28.6,9.6)(28.7,10.4)(28.9,9.6)(29.2,9.8)(29.6,9.45)(30.2,9.6)(31,9.5)(32,9.55)(33,9.45)(34,9.55)(35,9.5)(36,9.55)(37,9.5)(38,9.55)(39,9.5)(40,9.55)(41,9.5)(42,9.55)(43,9.5)(44,9.55)(45,9.5)(46,9.55)(47,9.5)(48,9.6)(49,9.55)(50,9.65)(51,9.6)(51.5,9.8)(52,9.5)(52.5,9.9)(53,9.5)(53.5,10.0)(54,9.4)(54.5,10.2)(55,9.5)(55.5,10.3)(56,9.6)(56.5,10.5)(57,9.4)(57.5,10.2)(58,9.0)(58.3,7.1)};
\addplot[c10,pb] coordinates {(80.5,10.5)(80.6,11.7)(80.8,10.6)(81.1,10.9)(81.5,10.4)(82,10.6)(82.6,10.45)(83.5,10.5)(84.5,10.45)(85.5,10.5)(86.5,10.45)(87.5,10.5)(88.5,10.45)(89.6,10.45)};
\addplot[c05,pb] coordinates {(24.4,4.7)(24.5,4.1)(24.8,4.6)(25.2,4.3)(25.7,4.45)(26.5,4.35)(27.5,4.4)(28.5,4.3)(29.5,4.35)(30.5,4.3)(31.5,4.3)(32.5,4.25)(33.5,4.3)(34.5,4.2)(35.5,4.25)(36.5,4.2)(37.5,4.25)(38.5,4.15)(39.5,4.2)(40.5,4.15)(41.5,4.2)(42.5,4.1)(43.5,4.15)(44.5,4.1)(45.5,4.15)(46.5,4.1)(47.5,4.15)(48.5,4.1)(49.5,4.15)(50.5,4.1)(51.5,4.15)(52,4.05)(52.5,4.3)(53,3.9)(53.5,4.5)(54,3.8)(54.5,4.8)(55,3.7)(55.5,5.2)(56,3.5)(56.5,6.0)(56.8,3.0)(57.1,8.8)(57.4,2.8)(57.7,7.0)(58,1.5)(58.3,6.5)(58.6,-0.6)(58.8,6.0)(59.2,5.3)(59.6,5.6)(60,5.1)(61,5.2)(62,5.15)(63,5.2)(64,5.15)(65,5.2)(66,5.15)(67,5.2)(68,5.15)(69,5.2)(70,5.15)(71,5.2)(72,5.15)(73,5.2)(74,5.15)(75,5.2)(76,5.15)(77,5.2)(78,5.15)(79,5.25)(80,5.2)(81,5.3)(81.5,5.0)(82,5.6)(82.5,4.9)(83,5.9)(83.5,4.8)(84,6.3)(84.5,4.6)(85,6.5)(85.3,5.0)(85.6,7.2)(85.9,4.4)(86.2,6.8)(86.5,4.6)(86.8,6.2)(87.1,4.3)(87.5,5.0)};
\addplot[c03,pb] coordinates {(20,3.6)(20.2,2.8)(20.5,3.4)(20.8,2.9)(21.2,3.3)(21.6,3.0)(22,3.25)(22.5,3.05)(23,3.2)(24,3.15)(25,3.2)(26,3.15)(27,3.2)(28,3.15)(29,3.2)(30,3.15)(31,3.2)(32,3.15)(33,3.2)(34,3.15)(35,3.2)(36,3.15)(37,3.2)(38,3.15)(38.5,3.4)(39,3.0)(39.5,3.5)(40,2.9)(40.5,3.6)(41,2.8)(41.5,3.8)(42,2.7)(42.5,3.6)(43,2.9)(43.5,4.0)(44,2.6)(44.5,3.7)(45,2.8)(45.5,3.5)(45.8,1.0)};
\addplot[c02,pb] coordinates {(62.7,2.6)(62.8,2.0)(63.1,2.5)(63.5,2.1)(64,2.35)(65,2.25)(66,2.3)(67,2.25)(68,2.3)(69,2.25)(70,2.3)(71,2.25)(72,2.3)(73,2.25)(74,2.3)(75,2.25)(76,2.3)(77,2.25)(78,2.3)(79,2.25)(80,2.3)(81,2.25)(82,2.3)(83,2.25)(84,2.3)(85,2.25)(86,2.3)(86.5,2.5)(87,2.1)(87.5,2.7)(88,2.0)(88.5,3.1)(89,2.2)(89.3,2.8)(89.6,2.3)};
\addplot[c02,pb] coordinates {(24.8,1.7)(24.9,1.0)(25.2,1.5)(25.6,1.1)(26.1,1.3)(27,1.15)(28,1.2)(29,1.15)(30,1.2)(31,1.1)(32,1.15)(33,1.1)(34,1.15)(35,1.05)(36,1.1)(37,1.05)(38,1.1)(39,1.0)(40,1.05)(41,1.0)(42,1.05)(43,1.0)(44,1.05)(45,1.0)(46,1.05)(47,1.0)(48,1.05)(49,1.0)(50,1.05)(50.5,1.3)(51,0.9)(51.5,1.4)(52,0.9)(52.5,1.5)(53,0.8)(53.5,1.7)(54,0.9)(54.5,1.9)(55,0.8)(55.5,2.1)(56,0.7)(56.3,2.5)(56.5,0.3)(56.7,3.2)(56.9,-0.6)};
\addplot[c01,pb] coordinates {(0,0.1)(0.5,-0.05)(1,0.15)(1.5,0.0)(2,0.1)(2.5,-0.05)(3,0.15)(3.5,0.0)(4,0.1)(4.5,0.05)(5,0.2)(5.5,0.0)(6,0.1)(6.5,-0.05)(7,0.15)(7.5,0.05)(8,0.2)(8.5,0.0)(9,0.15)(9.5,0.05)(10,0.25)(10.5,0.0)(11,0.3)(11.5,0.05)(12,0.4)(12.5,0.1)(13,0.6)(13.5,0.1)(14,0.8)(14.5,0.2)(15,1.0)(15.4,0.1)(15.7,1.3)(15.9,1.6)(15.9,-0.8)};
\addplot[c01,pb] coordinates {(83.5,0.5)(83.6,1.2)(83.8,0.3)(84.1,0.6)(84.5,0.2)(85,0.35)(85.6,0.15)(86.5,0.2)(87.5,0.15)(88.5,0.2)(89.6,0.15)};
\addplot[c22,pb] coordinates {(0,21.8)(1,21.75)(2,21.85)(3,21.75)(4,21.85)(5,21.8)(5.5,21.6)(5.8,22.2)(6.1,21.5)(6.4,22.4)(6.7,21.3)(7,22.6)(7.3,21.6)(7.6,22.3)(7.9,21.2)(8.2,22.7)(8.5,21.4)(8.8,20.5)};
\addplot[c18,pb] coordinates {(0,18.4)(0.3,17.6)(0.6,18.9)(0.9,17.3)(1.2,18.6)(1.5,17.8)(1.8,19.1)(2.1,17.5)(2.4,18.4)(2.7,16.6)(3.0,18.8)(3.3,17.9)(3.6,19.3)(3.9,17.2)(4.2,19.0)(4.5,18.0)(4.8,19.4)(5.1,17.6)(5.4,19.6)(5.7,18.1)(6.0,19.2)(6.3,17.8)(6.6,19.9)(6.9,17.4)(7.2,19.5)(7.4,16.3)(7.6,18.2)};
\addplot[c16,pb] coordinates {(3.1,17.0)(3.3,16.4)(3.6,16.8)(3.9,16.3)(4.3,24.1)(4.45,15.0)(4.6,16.7)(5,16.5)(5.5,16.65)(6.5,16.55)(7.5,16.6)(8.5,16.55)(9.5,16.6)(10.5,16.55)(11.5,16.6)(12.5,16.55)(13.5,16.6)(14.5,16.55)(15.5,16.6)(16.5,16.55)(17.5,16.6)(18.5,16.55)(19.5,16.6)(20.5,16.55)(21.5,16.6)(22.5,16.55)(23.5,16.6)(24.5,16.55)(25.5,16.6)(26.5,16.55)(27.5,16.6)(28.5,16.55)(29.5,16.6)(30.5,16.65)(31,16.5)(31.5,16.8)(32,16.5)(32.5,17.0)(33,16.6)(33.5,17.3)(34,16.7)(34.4,17.8)(34.8,18.4)};
\addplot[c14,pb] coordinates {(0,14.6)(1,14.55)(2,14.65)(3,14.55)(4,14.6)(5,14.55)(6,14.65)(7,14.55)(8,14.6)(9,14.55)(10,14.65)(11,14.55)(12,14.6)(13,14.55)(14,14.65)(15,14.55)(16,14.6)(17,14.55)(18,14.65)(19,14.55)(20,14.6)(21,14.55)(22,14.65)(23,14.55)(24,14.6)(25,14.55)(26,14.65)(27,14.6)(27.5,14.8)(28,14.4)(28.5,14.9)(29,14.3)(29.5,15.0)(30,14.3)(30.5,15.1)(31,14.2)(31.5,15.3)(32,14.1)(32.5,15.4)(33,14.0)(33.3,15.6)(33.5,13.3)(33.6,14.5)};
\addplot[c10,pb] coordinates {(0,10.45)(1,10.4)(2,10.5)(3,10.4)(4,10.45)(5,10.4)(6,10.5)(7,10.4)(8,10.45)(9,10.4)(9,8.3)};
\addplot[c10,pb] coordinates {(9.0,10.0)(9.3,10.9)(9.6,9.6)(9.9,11.0)(10.2,9.4)(10.5,11.1)(10.8,9.7)(11.1,10.8)(11.4,9.3)(11.7,11.0)(12.0,9.5)(12.3,10.6)(12.6,9.2)(12.9,10.2)};
\addplot[c10,pb,opacity=0.5] coordinates {(9.0,8.3)(14.8,8.3)};
\addplot[c08,pb] coordinates {(0,8.9)(0.3,8.2)(0.6,9.1)(0.9,8.0)(1.2,8.8)(1.5,7.8)(1.8,9.3)(2.1,8.3)(2.4,8.9)(2.7,7.9)(3.0,9.2)(3.3,8.1)(3.6,8.7)(3.9,7.6)(4.2,9.0)(4.5,8.0)(4.8,8.8)(5.1,7.7)(5.4,9.1)(5.7,8.2)(6.0,8.6)(6.3,7.5)(6.6,8.9)(6.9,7.8)(7.2,8.5)(7.5,7.4)(7.8,8.8)(8.1,7.6)(8.4,8.3)(8.7,7.3)(9.0,7.6)};
\addplot[c07,pb] coordinates {(4.9,7.8)(5.2,7.2)(5.5,7.6)(5.9,7.1)(6.3,7.45)(7,7.3)(8,7.35)(9,7.25)(10,7.3)(11,7.25)(12,7.35)(13,7.25)(14,7.3)(15,7.25)(16,7.35)(17,7.25)(18,7.3)(19,7.25)(20,7.35)(21,7.3)(22,7.35)(23,7.3)(24,7.4)(25,7.35)(26,7.45)(26.5,7.6)(27,7.2)(27.5,7.7)(28,7.1)(28.5,7.8)(29,7.0)(29.5,7.9)(30,6.8)(30.5,7.8)(31,6.6)(31.5,8.0)(31.9,6.7)(32.1,8.8)(32.4,4.3)};
\node[anchor=west,inner sep=0pt,font=\fontsize{18.5}{18.5}\selectfont] at (axis cs:2.6,30.5) {(c)};
\end{axis}
\end{tikzpicture}
\end{document}
